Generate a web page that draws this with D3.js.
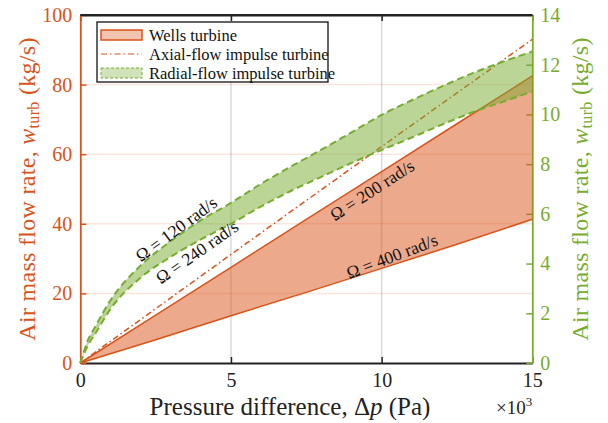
<!DOCTYPE html>
<html lang='en'>
<head>
  <meta charset='UTF-8'>
  <title>Air mass flow rate</title>
  <script src="https://cdn.jsdelivr.net/npm/d3@7"></script>
  <style>
    body { margin: 0; background: #fff; }
    svg text { font-family: 'Liberation Serif', 'DejaVu Serif', serif; }
  </style>
</head>
<body>
  <div id="chart"></div>
  <script>
    // pressure difference in 10^3 Pa
    const pressure = [0, 0.25, 0.5, 1, 2, 3, 4, 5, 6, 7, 8, 9, 10, 11, 12, 13, 14, 15];
    // radial-flow impulse turbine, right axis (kg/s)
    const radial120 = [0, 0.91, 1.47, 2.52, 3.92, 4.9, 5.74, 6.44, 7.21, 7.91, 8.58, 9.28, 9.98, 10.57, 11.13, 11.65, 12.11, 12.53];
    const radial240 = [0, 0.7, 1.19, 2.17, 3.43, 4.27, 4.97, 5.6, 6.3, 6.93, 7.49, 8.05, 8.57, 9.07, 9.59, 10.08, 10.5, 10.92];
    // wells + axial, left axis (kg/s)
    const pressureLin = [0, 2.5, 5, 7.5, 10, 12.5, 15];
    const wells200 = [0, 13.75, 27.5, 41.25, 55, 68.75, 82.5];
    const wells400 = [0, 6.7, 13.6, 20.3, 27.2, 34.1, 41.3];
    const axial = [0, 15.6, 31.2, 46.7, 62.2, 77.6, 93];

    const xTicks = [0, 5, 10, 15];
    const yTicks = [0, 20, 40, 60, 80, 100];
    const yRTicks = [0, 2, 4, 6, 8, 10, 12, 14];
    const legendLabels = ['Wells turbine', 'Axial-flow impulse turbine', 'Radial-flow impulse turbine'];
    const notes = [
      { text: 'Ω = 120 rad/s', x: 3.18, y: 38.5, angle: -36.5 },
      { text: 'Ω = 240 rad/s', x: 3.87, y: 31.9, angle: -35 },
      { text: 'Ω = 200 rad/s', x: 9.68, y: 49.7, angle: -33 },
      { text: 'Ω = 400 rad/s', x: 10.34, y: 30.7, angle: -21 }
    ];

    const red = '#D95319';
    const green = '#77AC30';
    const W = 608, H = 423;
    const pl = 80.3, pr = 532.3, pt = 15, pb = 363;

    const svg = d3.select('#chart').append('svg')
      .attr('width', W)
      .attr('height', H);

    const x = d3.scaleLinear().domain([0, 15]).range([pl, pr]);
    const y = d3.scaleLinear().domain([0, 100]).range([pb, pt]);
    const yR = d3.scaleLinear().domain([0, 14]).range([pb, pt]);

    // grid
    svg.append('g').selectAll('line')
      .data(yTicks.slice(1, -1))
      .join('line')
      .attr('x1', pl).attr('x2', pr)
      .attr('y1', (d) => y(d)).attr('y2', (d) => y(d))
      .attr('stroke', red).attr('stroke-opacity', 0.15).attr('stroke-width', 1.5);
    svg.append('g').selectAll('line')
      .data(xTicks.slice(1, -1))
      .join('line')
      .attr('x1', (d) => x(d)).attr('x2', (d) => x(d))
      .attr('y1', pt).attr('y2', pb)
      .attr('stroke', '#000').attr('stroke-opacity', 0.15).attr('stroke-width', 1.5);

    // axes
    const styleAxis = (g, color) => {
      g.select('.domain').attr('stroke', color).attr('stroke-width', 1.8);
      g.selectAll('.tick line').attr('stroke', color).attr('stroke-width', 1.5);
      g.selectAll('.tick text').attr('fill', color).attr('font-size', 20)
        .style('font-family', "'Liberation Serif', serif");
    };

    const xAxis = svg.append('g')
      .attr('transform', `translate(0, ${pb})`)
      .call(d3.axisBottom(x).tickValues(xTicks).tickSizeInner(-6).tickSizeOuter(0).tickPadding(10));
    styleAxis(xAxis, '#222');

    const xTop = svg.append('g')
      .attr('transform', `translate(0, ${pt})`)
      .call(d3.axisTop(x).tickValues(xTicks).tickSizeInner(-6).tickSizeOuter(0).tickFormat(''));
    styleAxis(xTop, '#222');

    const yAxis = svg.append('g')
      .attr('transform', `translate(${pl}, 0)`)
      .call(d3.axisLeft(y).tickValues(yTicks).tickSizeInner(-6).tickSizeOuter(0).tickPadding(8));
    styleAxis(yAxis, red);

    const yRAxis = svg.append('g')
      .attr('transform', `translate(${pr}, 0)`)
      .call(d3.axisRight(yR).tickValues(yRTicks).tickSizeInner(-6).tickSizeOuter(0).tickPadding(8));
    styleAxis(yRAxis, green);

    // wells turbine band
    const wells = pressureLin.map((p, i) => ({ p, hi: wells200[i], lo: wells400[i], ax: axial[i] }));
    svg.append('path')
      .datum(wells)
      .attr('fill', red).attr('fill-opacity', 0.5)
      .attr('d', d3.area().x((d) => x(d.p)).y0((d) => y(d.lo)).y1((d) => y(d.hi)));
    ['hi', 'lo'].forEach((k) => {
      svg.append('path')
        .datum(wells)
        .attr('fill', 'none').attr('stroke', red).attr('stroke-width', 1.5)
        .attr('d', d3.line().x((d) => x(d.p)).y((d) => y(d[k])));
    });

    // axial-flow impulse turbine
    svg.append('path')
      .datum(wells)
      .attr('fill', 'none').attr('stroke', red).attr('stroke-width', 1.5)
      .attr('stroke-dasharray', '6,3,1.5,3')
      .attr('d', d3.line().x((d) => x(d.p)).y((d) => y(d.ax)));

    // radial-flow impulse turbine band
    const radial = pressure.map((p, i) => ({ p, hi: radial120[i], lo: radial240[i] }));
    svg.append('path')
      .datum(radial)
      .attr('fill', green).attr('fill-opacity', 0.5)
      .attr('d', d3.area().curve(d3.curveMonotoneX).x((d) => x(d.p)).y0((d) => yR(d.lo)).y1((d) => yR(d.hi)));
    ['hi', 'lo'].forEach((k) => {
      svg.append('path')
        .datum(radial)
        .attr('fill', 'none').attr('stroke', green).attr('stroke-width', 2)
        .attr('stroke-dasharray', '7,4')
        .attr('d', d3.line().curve(d3.curveMonotoneX).x((d) => x(d.p)).y((d) => yR(d[k])));
    });

    // annotations
    svg.append('g').selectAll('text')
      .data(notes)
      .join('text')
      .attr('transform', (d) => `translate(${x(d.x)}, ${y(d.y)}) rotate(${d.angle})`)
      .attr('text-anchor', 'middle')
      .attr('dy', '0.35em')
      .attr('font-size', 17.5)
      .attr('fill', '#111')
      .text((d) => d.text);

    // axis labels
    const xl = svg.append('text')
      .attr('x', 290).attr('y', 415)
      .attr('text-anchor', 'middle')
      .attr('font-size', 25)
      .attr('fill', '#222');
    xl.append('tspan').text('Pressure difference, Δ');
    xl.append('tspan').attr('font-style', 'italic').text('p');
    xl.append('tspan').text(' (Pa)');

    const power = svg.append('text')
      .attr('x', pr).attr('y', 414)
      .attr('text-anchor', 'end')
      .attr('font-size', 19)
      .attr('fill', '#222');
    power.append('tspan').text('×10');
    power.append('tspan').attr('font-size', 13).attr('dy', -8).text('3');

    const yLabel = (xPos, color) => {
      const t = svg.append('text')
        .attr('transform', `translate(${xPos}, ${(pt + pb) / 2}) rotate(-90)`)
        .attr('text-anchor', 'middle')
        .attr('font-size', 24)
        .attr('letter-spacing', 0.3)
        .attr('fill', color);
      t.append('tspan').text('Air mass flow rate, ');
      t.append('tspan').attr('font-style', 'italic').text('w');
      t.append('tspan').attr('font-size', 16).attr('dy', 4).text('turb');
      t.append('tspan').attr('dy', -4).text(' (kg/s)');
    };
    yLabel(35, red);
    yLabel(588, green);

    // top border line
    svg.append('line')
      .attr('x1', pl).attr('x2', pr)
      .attr('y1', pt).attr('y2', pt)
      .attr('stroke', '#222').attr('stroke-width', 1.8);

    // legend
    const lg = svg.append('g').attr('transform', 'translate(97, 22)');
    lg.append('rect')
      .attr('width', 231).attr('height', 60)
      .attr('fill', '#fff').attr('stroke', '#111').attr('stroke-width', 1.3);
    const rowY = [13, 32, 51];
    lg.append('rect')
      .attr('x', 4).attr('y', rowY[0] - 5).attr('width', 41).attr('height', 10)
      .attr('fill', red).attr('fill-opacity', 0.35)
      .attr('stroke', red).attr('stroke-width', 1.5);
    lg.append('line')
      .attr('x1', 4).attr('x2', 45).attr('y1', rowY[1]).attr('y2', rowY[1])
      .attr('stroke', red).attr('stroke-width', 1.2).attr('stroke-dasharray', '6,3,1.5,3');
    lg.append('rect')
      .attr('x', 4).attr('y', rowY[2] - 5).attr('width', 41).attr('height', 10)
      .attr('fill', green).attr('fill-opacity', 0.35)
      .attr('stroke', green).attr('stroke-width', 1).attr('stroke-dasharray', '3,2');
    lg.selectAll('text.lab')
      .data(legendLabels)
      .join('text')
      .attr('class', 'lab')
      .attr('x', 52)
      .attr('y', (d, i) => rowY[i])
      .attr('dy', '0.35em')
      .attr('font-size', 16.5)
      .attr('fill', '#111')
      .text((d) => d);
  </script>
</body>
</html>
